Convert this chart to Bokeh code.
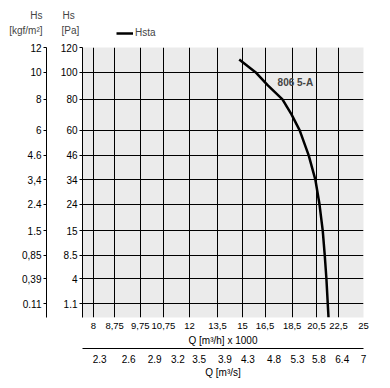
import numpy as np
from bokeh.plotting import figure
from bokeh.layouts import column
from bokeh.models import (LogAxis, LinearAxis, Range1d, LogScale, FixedTicker,
                          Label, Legend, LegendItem)
from bokeh.embed import file_html
from bokeh.resources import INLINE

# ---- data ----
q_curve = [14.8, 15.85, 16.7, 17.76, 18.45, 19.1, 19.84, 20.41, 20.76, 21.05, 21.23, 21.38, 21.5, 21.57]
pa_curve = [110, 100, 90, 80, 70, 60, 46, 34, 24, 15, 8.5, 4, 1.1, 0.26]
series_name = "Hsta"
curve_label = "806 5-A"

q_ticks = [8, 8.75, 9.75, 10.75, 12, 13.5, 15, 16.5, 18.5, 20.5, 22.5, 25]
q_tick_labels = ["8", "8,75", "9,75", "10,75", "12", "13,5", "15", "16,5", "18,5", "20,5", "22,5", "25"]
qs_ticks = [2.3, 2.6, 2.9, 3.2, 3.5, 3.9, 4.3, 4.8, 5.3, 5.8, 6.4, 7]
qs_tick_labels = ["2.3", "2.6", "2.9", "3.2", "3.5", "3.9", "4.3", "4.8", "5.3", "5.8", "6.4", "7"]
pa_ticks = [1.1, 4, 8.5, 15, 24, 34, 46, 60, 80, 100, 120]
pa_tick_labels = ["1.1", "4", "8.5", "15", "24", "34", "46", "60", "80", "100", "120"]
kgf_tick_labels = ["0.11", "0,39", "0,85", "1.5", "2.4", "3,4", "4.6", "6", "8", "10", "12"]
kgf_title = ["Hs", "[kgf/m²]"]
pa_title = ["Hs", "[Pa]"]

Q_MIN, Q_MAX = 7.64, 25.0
PA_MIN, PA_MAX = 0.26, 120.0
QS_MAX = 7.0

FONT = "Liberation Sans"
FS = "10px"

W = 390
HEAD_H = 40
MAIN_H = 388 - HEAD_H

# square-root pressure scale (the reference's vertical scale)
y_curve = list(np.sqrt(pa_curve))
y_ticks = [float(np.sqrt(v)) for v in pa_ticks]
Y0, Y1 = float(np.sqrt(PA_MIN)), float(np.sqrt(PA_MAX))

# ---------------- main chart ----------------
p = figure(width=W, height=MAIN_H, x_axis_type="log",
           x_range=Range1d(Q_MIN, Q_MAX), y_range=Range1d(Y0, Y1),
           output_backend="svg", toolbar_location=None,
           min_border_left=82, min_border_right=27, min_border_top=7,
           min_border_bottom=71)
p.background_fill_color = "#ebebeb"
p.border_fill_color = "white"
p.outline_line_color = None

r = p.line(q_curve, y_curve, line_color="black", line_width=2.5)

p.xgrid.ticker = FixedTicker(ticks=q_ticks)
p.ygrid.ticker = FixedTicker(ticks=y_ticks)
for g in (p.xgrid, p.ygrid):
    g.grid_line_color = "black"
    g.grid_line_width = 1
    g.grid_line_alpha = 1

# bottom axis m3/h
xa = p.xaxis[0]
xa.ticker = FixedTicker(ticks=q_ticks)
xa.major_label_overrides = {float(t): l for t, l in zip(q_ticks, q_tick_labels)}
xa.axis_line_color = None
xa.major_tick_line_color = None
xa.minor_tick_line_color = None
xa.major_tick_in = 0
xa.major_tick_out = 0
xa.major_label_standoff = 5
xa.axis_label = "Q [m³/h] x 1000"
xa.axis_label_standoff = 3

# Pa axis
ya = p.yaxis[0]
ya.ticker = FixedTicker(ticks=y_ticks)
ya.major_label_overrides = {t: l for t, l in zip(y_ticks, pa_tick_labels)}
ya.minor_tick_line_color = None
ya.major_tick_in = 0
ya.major_tick_out = 3
ya.major_label_standoff = 2
ya.axis_label = " "

# kgf/m2 axis
ka = LinearAxis(ticker=FixedTicker(ticks=y_ticks),
                major_label_overrides={t: l for t, l in zip(y_ticks, kgf_tick_labels)})
ka.minor_tick_line_color = None
ka.major_tick_in = 0
ka.major_tick_out = 3
ka.major_label_standoff = 2
p.add_layout(ka, "left")

# m3/s axis
p.extra_x_ranges = {"ms": Range1d(Q_MIN * QS_MAX / Q_MAX, QS_MAX)}
p.extra_x_scales = {"ms": LogScale()}
sa = LogAxis(x_range_name="ms", ticker=FixedTicker(ticks=qs_ticks),
             major_label_overrides={float(t): l for t, l in zip(qs_ticks, qs_tick_labels)})
sa.axis_label = "Q [m³/s]"
sa.minor_tick_line_color = None
sa.major_tick_line_color = None
sa.major_tick_in = 0
sa.major_tick_out = 0
sa.major_label_standoff = 6
sa.axis_label_standoff = 1
p.add_layout(sa, "below")

for ax in (xa, ya, ka, sa):
    ax.major_label_text_font = FONT
    ax.major_label_text_font_size = FS
    ax.major_label_text_color = "black"
    ax.axis_label_text_font = FONT
    ax.axis_label_text_font_size = FS
    ax.axis_label_text_font_style = "normal"
    ax.axis_label_text_color = "black"
xa.major_label_text_font_size = "9.5px"
ya.axis_label_text_font_size = "1px"
ya.axis_label_standoff = 7

p.add_layout(Label(x=17.4, y=float(np.sqrt(92.0)), text=curve_label,
                   text_font=FONT, text_font_size=FS, text_font_style="bold",
                   text_baseline="middle", text_align="left"))

# ---------------- header strip: axis titles and legend ----------------
h = figure(width=W, height=HEAD_H, x_range=Range1d(0, 1), y_range=Range1d(0, 1),
           x_axis_location=None, y_axis_location=None, min_border=0,
           output_backend="svg", toolbar_location=None)
h.grid.visible = False
h.outline_line_color = None
h.background_fill_color = "white"
h.border_fill_color = "white"

# keep the header's frame independent of the chart's frame
X_OFF = 0
try:
    h.frame_align = False
    p.frame_align = False
except Exception:
    X_OFF = -82

# same series drawn in the header only to carry the legend glyph (out of view there)
lr = h.line(q_curve, y_curve, line_color="black", line_width=2.5)
legend = Legend(items=[LegendItem(label=series_name, renderers=[lr])],
                location=(116 + X_OFF, 2), orientation="horizontal",
                border_line_color=None, background_fill_alpha=0,
                padding=0, margin=0, glyph_width=17, glyph_height=10,
                label_standoff=2, label_text_font=FONT, label_text_font_size=FS)
h.add_layout(legend, "center")

for (txt, x, y, al) in [(kgf_title[0], 42, 25, "right"), (kgf_title[1], 42, 10, "right"),
                        (pa_title[0], 62, 25, "left"), (pa_title[1], 61, 10, "left")]:
    h.add_layout(Label(x=x + X_OFF, y=y, x_units="screen", y_units="screen", text=txt,
                       text_font=FONT, text_font_size=FS, text_align=al,
                       text_baseline="middle"))

open("out.html", "w").write(file_html(column(h, p, spacing=0), INLINE))
